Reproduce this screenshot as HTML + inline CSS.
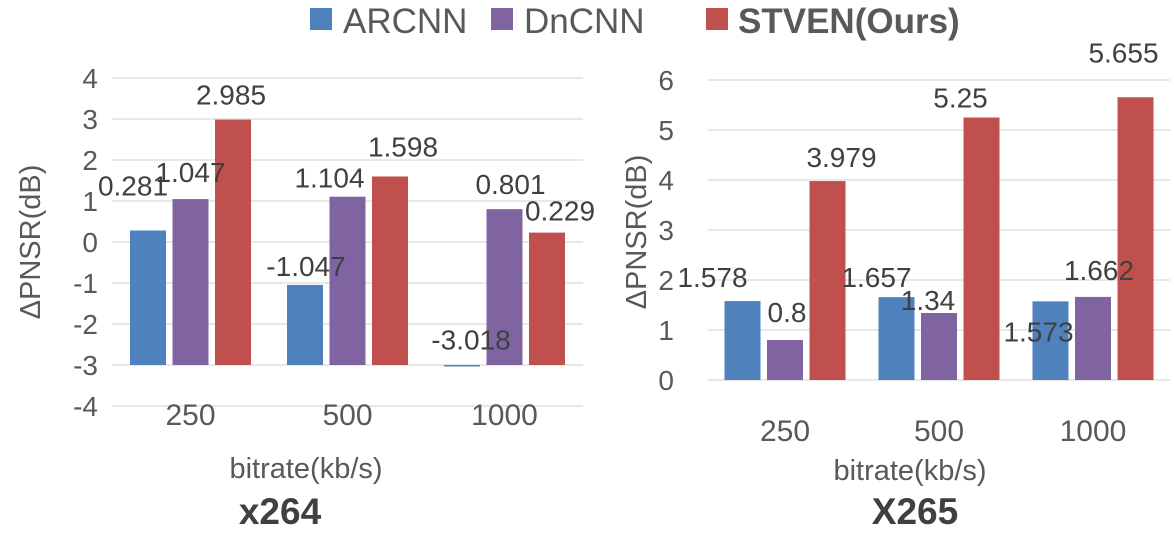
<!DOCTYPE html>
<html><head><meta charset="utf-8"><style>
body{margin:0;background:#fff;width:1174px;height:537px;overflow:hidden;font-family:"Liberation Sans","DejaVu Sans",sans-serif}
</style></head><body>
<svg id="c" width="1174" height="537" xmlns="http://www.w3.org/2000/svg" font-family="Liberation Sans, DejaVu Sans, sans-serif">
  <g>
    <rect x="310" y="8" width="22" height="22" fill="#4f81bd"/>
    <text x="343" y="33" font-size="35" fill="#595959">ARCNN</text>
    <rect x="491" y="8" width="22" height="22" fill="#8064a2"/>
    <text x="524" y="33" font-size="35" fill="#595959">DnCNN</text>
    <rect x="706" y="8" width="22" height="22" fill="#c0504d"/>
    <text x="738" y="33" font-size="35" font-weight="bold" fill="#595959">STVEN(Ours)</text>
  </g>
</svg>
<script>
const categories = ["250","500","1000"];
const seriesNames = ["ARCNN","DnCNN","STVEN"];
const leftArcnn = [0.281,-1.047,-3.018];
const leftDncnn = [1.047,1.104,0.801];
const leftStven = [2.985,1.598,0.229];
const rightArcnn = [1.578,1.657,1.573];
const rightDncnn = [0.8,1.34,1.662];
const rightStven = [3.979,5.25,5.655];
const leftTicks = [4,3,2,1,0,-1,-2,-3,-4];
const rightTicks = [6,5,4,3,2,1,0];
const leftLabelOffsets = [[-15,-45],[0,-27],[-2,-25],[1,-19],[-18,-19],[13,-30],[9,-26],[6,-25],[13,-22]];
const rightLabelOffsets = [[-30,-24],[2,-28],[14,-24],[-20,-20],[-11,-13],[-21,-20],[-12,30],[6,-27],[-12,-45]];
const colors = ["#4f81bd","#8064a2","#c0504d"];
const NS="http://www.w3.org/2000/svg";
const svg=document.getElementById('c');
function mk(tag,attrs,parent){const e=document.createElementNS(NS,tag);for(const k in attrs)e.setAttribute(k,attrs[k]);(parent||svg).appendChild(e);return e;}
function drawChart(o){
  const g=mk('g',{});
  
  
  const y=v=>o.y0-(v-o.zeroV)*o.unit;
  o.ticks.forEach(t=>{
    const l=mk('line',{x1:o.x1,x2:o.x2,y1:y(t),y2:y(t),stroke:'#d9d9d9','stroke-width':1.3},g);
    
    
    const tx=mk('text',{x:o.tickX,y:y(t)+10,'font-size':28,fill:'#595959','text-anchor':'end'},g);
    tx.textContent=t;
    
    
  });
  const band=(o.x2-o.x1)/categories.length;
  const bw=36, gap=6.5;
  const base=y(o.baseV);
  const labels=[];
  categories.forEach((c,i)=>{
    const cx=o.x1+band*(i+0.5);
    o.series.forEach((s,j)=>{
      const bx=cx+(j-1)*(bw+gap)-bw/2;
      const v=s[i], vy=y(v);
      const r=mk('rect',{x:bx,y:Math.min(vy,base),width:bw,height:Math.max(Math.abs(base-vy),1.5),fill:colors[j]},g);
      
      
      const off=o.offsets[i*3+j];
      labels.push([bx+bw/2+off[0],vy+off[1]+10,v]);
    });
    const ct=mk('text',{x:cx,y:o.catY,'font-size':30,fill:'#595959','text-anchor':'middle'},g);
    ct.textContent=c;
    
    
  });
  labels.forEach(L=>{
    const lt=mk('text',{x:L[0],y:L[1],'font-size':28,fill:'#404040','text-anchor':'middle'},g);
    lt.textContent=L[2];
    
    
  });
  const xt=mk('text',{x:o.xTitleX,y:o.xTitleY,'font-size':29,fill:'#595959','text-anchor':'middle'},g);
  xt.textContent='bitrate(kb/s)';
  
  
  const yt=mk('text',{x:0,y:0,'font-size':29,fill:'#595959','text-anchor':'middle',transform:`translate(${o.yTitleX},${o.yTitleY}) rotate(-90)`},g);
  yt.textContent='ΔPNSR(dB)';
  
  
  const tt=mk('text',{x:o.titleX,y:524,'font-size':37,'font-weight':'bold',fill:'#404040','text-anchor':'middle'},g);
  tt.textContent=o.title;
  
  
}
drawChart({name:'x264-chart',x1:112,x2:583,y0:242,zeroV:0,unit:41,baseV:-3,ticks:leftTicks,tickX:98,
  series:[leftArcnn,leftDncnn,leftStven],offsets:leftLabelOffsets,catY:425,xTitleX:306,xTitleY:478,yTitleX:40,yTitleY:242,titleX:280,title:'x264'});
drawChart({name:'x265-chart',x1:708,x2:1170,y0:380,zeroV:0,unit:50,baseV:0,ticks:rightTicks,tickX:674,
  series:[rightArcnn,rightDncnn,rightStven],offsets:rightLabelOffsets,catY:441,xTitleX:910,xTitleY:480,yTitleX:646,yTitleY:232,titleX:915,title:'X265'});
</script>
</body></html>
